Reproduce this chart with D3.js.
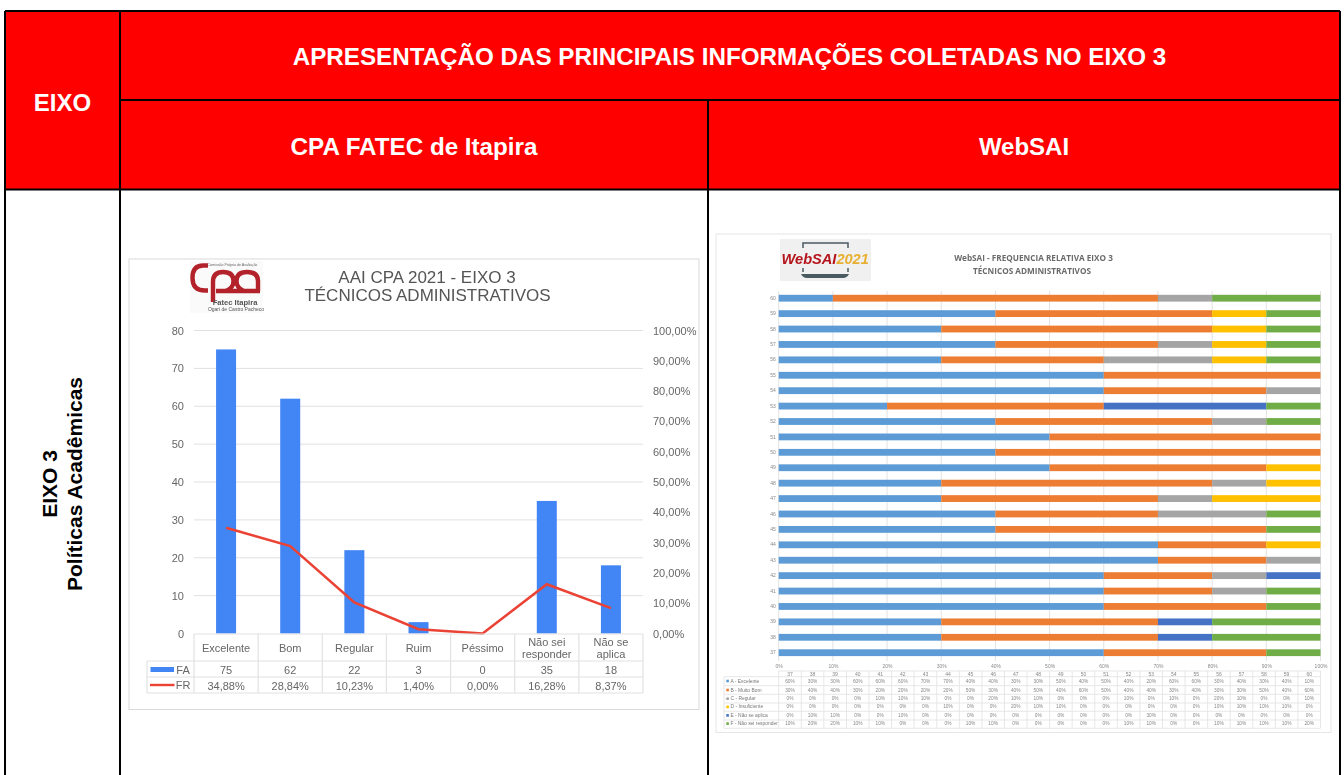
<!DOCTYPE html>
<html><head><meta charset="utf-8">
<script src="https://cdn.jsdelivr.net/npm/d3@7"></script>
<style>
html,body{margin:0;padding:0;background:#fff;overflow:hidden}
svg{display:block}
text{font-family:"Liberation Sans",Arial,sans-serif}
</style></head><body><div id="c"></div>
<script>
// ---- left chart data
const categories=["Excelente","Bom","Regular","Ruim","Péssimo","Não sei responder","Não se aplica"];
const fa=[75,62,22,3,0,35,18];
const fr=[34.88,28.84,10.23,1.40,0,16.28,8.37];
const yTicksLeft=[0,10,20,30,40,50,60,70,80];
const yTicksRight=[0,10,20,30,40,50,60,70,80,90,100];
// ---- right chart data (question numbers, percentages per answer)
const questions=[37,38,39,40,41,42,43,44,45,46,47,48,49,50,51,52,53,54,55,56,57,58,59,60];
const seriesNames=["A - Excelente","B - Muito Bom","C - Regular","D - Insuficiente","E - Não se aplica","F - Não sei responder"];
const seriesA=[60,30,30,60,60,60,70,70,40,40,30,30,50,40,50,40,20,60,60,30,40,30,40,10];
const seriesB=[30,40,40,30,20,20,20,20,50,30,40,50,40,60,50,40,40,30,40,30,30,50,40,60];
const seriesC=[0,0,0,0,10,10,10,0,0,20,10,10,0,0,0,10,0,10,0,20,10,0,0,10];
const seriesD=[0,0,0,0,0,0,0,10,0,0,20,10,10,0,0,0,0,0,0,10,10,10,10,0];
const seriesE=[0,10,10,0,0,10,0,0,0,0,0,0,0,0,0,0,30,0,0,0,0,0,0,0];
const seriesF=[10,20,20,10,10,0,0,0,10,10,0,0,0,0,0,10,10,0,0,10,10,10,10,20];
const seriesColors=["#5b9bd5","#ed7d31","#a5a5a5","#ffc000","#4472c4","#70ad47"];
const xTicksRight=[0,10,20,30,40,50,60,70,80,90,100];

const svg=d3.select("#c").append("svg").attr("width",1344).attr("height",775);
const defs=svg.append("defs");
defs.append("filter").attr("id","soft").attr("x","-2%").attr("y","-2%").attr("width","104%").attr("height","104%")
  .append("feGaussianBlur").attr("stdDeviation",0.35);
defs.append("filter").attr("id","softer").attr("x","-2%").attr("y","-2%").attr("width","104%").attr("height","104%")
  .append("feGaussianBlur").attr("stdDeviation",0.55);

// ---- outer layout table
const L=5,R=1340,T=11,M1=100,M2=189.5,C1=120,C2=708,B=775;
svg.append("rect").attr("x",L).attr("y",T).attr("width",R-L).attr("height",M2-T).attr("fill","#ff0000");
[[L,T,R,T],[L,T,L,B],[R,T,R,B],[C1,T,C1,B],[C1,M1,R,M1],[C2,M1,C2,B],[L,M2,R,M2]].forEach(d=>
  svg.append("line").attr("x1",d[0]).attr("y1",d[1]).attr("x2",d[2]).attr("y2",d[3]).attr("stroke","#000").attr("stroke-width",2));
const hdr=(t,x,y,s)=>svg.append("text").attr("x",x).attr("y",y).attr("text-anchor","middle").attr("dominant-baseline","central")
  .attr("font-weight","bold").attr("font-size",s).attr("fill","#fff").text(t);
hdr("EIXO",62.5,102,24);
hdr("APRESENTAÇÃO DAS PRINCIPAIS INFORMAÇÕES COLETADAS NO EIXO 3",729.5,56.5,24.2);
hdr("CPA FATEC de Itapira",414,146,24.2);
hdr("WebSAI",1024,146,24);
const side=svg.append("g").attr("transform","translate(62,484) rotate(-90)").attr("font-weight","bold").attr("text-anchor","middle").attr("fill","#000").attr("font-size",21);
side.append("text").attr("x",0).attr("y",-5.5).text("EIXO 3");
side.append("text").attr("x",0).attr("y",19.5).text("Políticas Acadêmicas");

// ---- left chart
const g1=svg.append("g").attr("filter","url(#soft)");
g1.append("rect").attr("x",129).attr("y",259).attr("width",570).attr("height",450.5).attr("fill","#fff").attr("stroke","#d9d9d9");
const x1=d3.scaleBand().domain(categories).range([194,643]);
const y1=d3.scaleLinear().domain([0,80]).range([633.5,330.5]);
const y1r=d3.scaleLinear().domain([0,100]).range([633.5,330.5]);
const TXT="#666";
const axL=g1.append("g").attr("transform","translate(194,0)").call(d3.axisLeft(y1).tickValues(yTicksLeft).tickSize(0).tickPadding(10));
axL.select(".domain").remove();
axL.selectAll("text").attr("font-size",11).attr("fill",TXT).attr("font-family","Liberation Sans");
g1.append("g").selectAll("line").data(yTicksLeft.slice(1)).join("line").attr("x1",194).attr("x2",643).attr("y1",d=>y1(d)).attr("y2",d=>y1(d)).attr("stroke","#e0e0e0");
const axR=g1.append("g").attr("transform","translate(643,0)").call(d3.axisRight(y1r).tickValues(yTicksRight).tickSize(0).tickPadding(10).tickFormat(d=>d.toFixed(2).replace(".",",")+"%"));
axR.select(".domain").remove();
axR.selectAll("text").attr("font-size",11).attr("fill",TXT).attr("font-family","Liberation Sans");
g1.selectAll("rect.bar").data(categories).join("rect").attr("class","bar")
  .attr("x",d=>x1(d)+x1.bandwidth()/2-10).attr("width",20)
  .attr("y",(d,i)=>y1(fa[i])).attr("height",(d,i)=>y1(0)-y1(fa[i])).attr("fill","#4285f4");
g1.append("path").datum(fr).attr("fill","none").attr("stroke","#ea4335").attr("stroke-width",2.6)
  .attr("d",d3.line().x((d,i)=>x1(categories[i])+x1.bandwidth()/2).y(d=>y1r(d)));
// data table under left chart
const rows1=[634,661,677,693];
const tbl=g1.append("g").attr("stroke","#e2e2e2").attr("stroke-width",1.2);
tbl.append("line").attr("x1",194).attr("x2",643).attr("y1",rows1[0]).attr("y2",rows1[0]);
rows1.slice(1).forEach(y=>tbl.append("line").attr("x1",147).attr("x2",643).attr("y1",y).attr("y2",y));
tbl.append("line").attr("x1",147).attr("x2",147).attr("y1",rows1[1]).attr("y2",rows1[3]);
d3.range(8).forEach(i=>{const x=194+i*x1.bandwidth();tbl.append("line").attr("x1",x).attr("x2",x).attr("y1",rows1[0]).attr("y2",rows1[3]);});
const t1=(t,x,y)=>g1.append("text").attr("x",x).attr("y",y).attr("text-anchor","middle").attr("dominant-baseline","central").attr("font-size",11).attr("fill",TXT).text(t);
const catLines={"Não sei responder":["Não sei","responder"],"Não se aplica":["Não se","aplica"]};
categories.forEach((c,i)=>{
  const cx=x1(c)+x1.bandwidth()/2;
  if(catLines[c]){t1(catLines[c][0],cx,642);t1(catLines[c][1],cx,653.5);} else t1(c,cx,648);
  t1(fa[i],cx,669.5);
  t1(fr[i].toFixed(2).replace(".",",")+"%",cx,686);
});
g1.append("rect").attr("x",150.5).attr("y",667).attr("width",23.5).attr("height",5).attr("fill","#4285f4");
g1.append("line").attr("x1",150).attr("x2",174.5).attr("y1",685).attr("y2",685).attr("stroke","#ea4335").attr("stroke-width",2.4);
t1("FA",183,669.5);t1("FR",183,685);
const title1=g1.append("g").attr("text-anchor","middle").attr("fill","#555").attr("font-size",17);
title1.append("text").attr("x",427).attr("y",283).text("AAI CPA 2021 - EIXO 3");
title1.append("text").attr("x",427.5).attr("y",301).text("TÉCNICOS ADMINISTRATIVOS");
// CPA logo (drawn mark)
g1.append("rect").attr("x",190).attr("y",261).attr("width",73).attr("height",52).attr("fill","#fafafa");
const lg=g1.append("g").attr("fill","none").attr("stroke","#b3212b").attr("stroke-width",4.4);
lg.append("path").attr("d","M208 265.500 H203 Q192.500 265.500 192.500 278 Q192.500 290.500 205 290.500 H208");
lg.append("path").attr("d","M213 302 V282 Q213 272 223 272 Q233.500 272 233.500 281 Q233.500 288 226 291");
lg.append("path").attr("d","M216 291 H260 M258 291 V281 Q258 272 247 272 Q236.500 272 236.500 281 Q236.500 288 244 291");
g1.append("text").attr("x",207.500).attr("y",265.500).attr("font-size",3.6).attr("fill","#666").text("Comissão Própria de Avaliação");
g1.append("text").attr("x",235).attr("y",305).attr("font-size",7.6).attr("font-weight","bold").attr("text-anchor","middle").attr("fill","#555").text("Fatec Itapira");
g1.append("text").attr("x",236).attr("y",310.5).attr("font-size",5).attr("text-anchor","middle").attr("fill","#555").text("Ogari de Castro Pacheco");

// ---- right chart
const g2=svg.append("g").attr("filter","url(#soft)");
g2.append("rect").attr("x",716).attr("y",234).attr("width",615).attr("height",498.5).attr("fill","#fff").attr("stroke","#e6e6e6");
const x2=d3.scaleLinear().domain([0,100]).range([778.7,1320.5]);
const yq=d3.scaleBand().domain(questions).range([660.4,290.5]);
g2.append("g").selectAll("line").data(xTicksRight).join("line").attr("x1",d=>x2(d)).attr("x2",d=>x2(d)).attr("y1",291).attr("y2",661).attr("stroke","#e2e2e2");
const allSeries=[seriesA,seriesB,seriesC,seriesD,seriesE,seriesF];
const stackRows=questions.map((q,i)=>{const o={q};seriesNames.forEach((n,k)=>o[n]=allSeries[k][i]);return o;});
const stacked=d3.stack().keys(seriesNames)(stackRows);
stacked.forEach((s,k)=>{
  g2.append("g").attr("fill",seriesColors[k]).selectAll("rect").data(s).join("rect")
    .attr("x",d=>x2(d[0])).attr("width",d=>x2(d[1])-x2(d[0]))
    .attr("y",d=>yq(d.data.q)+yq.bandwidth()/2-3.4).attr("height",6.8);
});
const title2=g2.append("g").attr("text-anchor","middle").attr("fill","#6b6b6b").attr("font-weight","bold").attr("font-size",8.2);
title2.append("text").attr("x",1033.5).attr("y",261).style("font-family","Open Sans").text("WebSAI - FREQUENCIA RELATIVA EIXO 3");
title2.append("text").attr("x",1032).attr("y",274).style("font-family","Open Sans").text("TÉCNICOS ADMINISTRATIVOS");
// WebSAI logo (drawn mark)
g2.append("rect").attr("x",780).attr("y",239).attr("width",91).attr("height",42).attr("fill","#f0f0f0");
g2.append("path").attr("d","M803 248 V243 H848 V248 M803 268 V272 M848 268 V272").attr("fill","none").attr("stroke","#4a5a60").attr("stroke-width",1.5);
g2.append("path").attr("d","M801 274 H849 Q847 278 843 278 H807 Q803 278 801 274 Z").attr("fill","#4a5a60");
const wl=g2.append("text").attr("x",781.5).attr("y",263.5).attr("font-size",14.6).attr("font-weight","bold").attr("font-style","italic");
wl.append("tspan").attr("fill","#b5121b").text("WebSAI");
wl.append("tspan").attr("fill","#e8b030").text("2021");

// tiny labels and data table (blurrier in the picture)
const g3=svg.append("g").attr("filter","url(#softer)");
const axB=g3.append("g").attr("transform","translate(0,661)").call(d3.axisBottom(x2).tickValues(xTicksRight).tickSize(0).tickPadding(3).tickFormat(d=>d+"%"));
axB.select(".domain").remove();
axB.selectAll("text").attr("font-size",5).attr("fill","#888").attr("font-family","Liberation Sans");
const axQ=g3.append("g").attr("transform","translate(778.7,0)").call(d3.axisLeft(yq).tickSize(0).tickPadding(3));
axQ.select(".domain").remove();
axQ.selectAll("text").attr("font-size",5).attr("fill","#888").attr("font-family","Liberation Sans");
const rowTop=[671,676.7,685.7,694.3,703,711.3,720,728.3];
const bw=(x2(100)-x2(0))/questions.length;
const tb2=g3.append("g").attr("stroke","#e4e4e4").attr("stroke-width",0.9);
rowTop.forEach((y,i)=>tb2.append("line").attr("x1",i==0?778.7:724).attr("x2",1320.5).attr("y1",y).attr("y2",y));
tb2.append("line").attr("x1",724).attr("x2",724).attr("y1",676.7).attr("y2",728.3);
d3.range(questions.length+1).forEach(i=>{const x=778.7+i*bw;tb2.append("line").attr("x1",x).attr("x2",x).attr("y1",671).attr("y2",728.3);});
const rowCy=[681,690,698.7,706.9,715.4,723.6];
questions.forEach((q,i)=>{
  const cx=778.7+(i+.5)*bw;
  g3.append("text").attr("x",cx).attr("y",674).attr("text-anchor","middle").attr("dominant-baseline","central").attr("font-size",5).attr("fill","#888").text(q);
  allSeries.forEach((s,k)=>g3.append("text").attr("x",cx).attr("y",rowCy[k]).attr("text-anchor","middle").attr("dominant-baseline","central").attr("font-size",4.8).attr("fill","#888").text(s[i]+"%"));
});
seriesNames.forEach((n,k)=>{
  g3.append("rect").attr("x",726.3).attr("y",rowCy[k]-1.3).attr("width",2.6).attr("height",2.6).attr("fill",seriesColors[k]);
  g3.append("text").attr("x",730.5).attr("y",rowCy[k]).attr("dominant-baseline","central").attr("font-size",4.9).attr("fill","#777").text(n);
});
</script></body></html>
